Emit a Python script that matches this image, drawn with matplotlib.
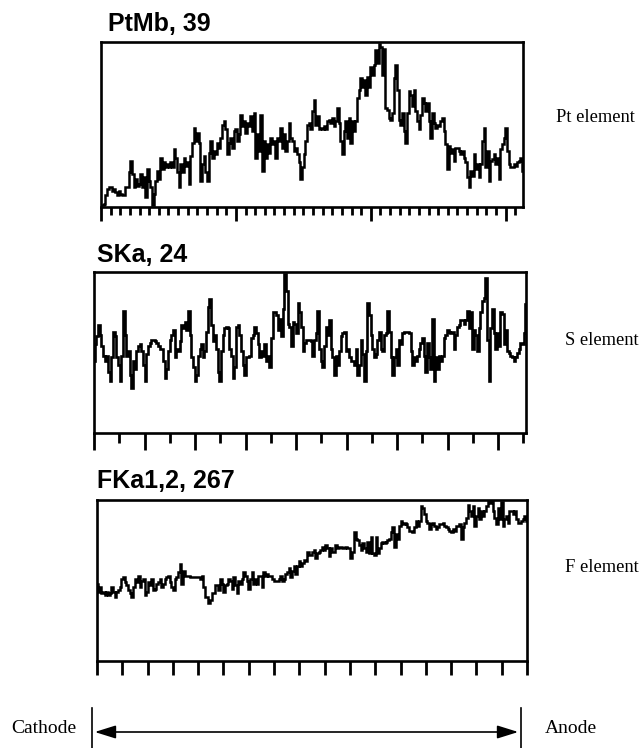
import matplotlib
matplotlib.use("Agg")
from matplotlib import pyplot as plt
from matplotlib.lines import Line2D
from matplotlib.patches import FancyArrowPatch
import numpy as np

# relative intensity (% of the max count shown in each title)
pt_counts = [1, 1, 2, 7, 11, 12, 12, 10, 11, 9, 7, 10, 8, 7, 7, 12, 12, 21, 28, 20, 12, 17, 13, 14, 20, 12,
             18, 6, 23, 16, 12, 1, 8, 16, 22, 17, 30, 23, 27, 24, 26, 24, 27, 24, 35, 30, 21, 12, 26, 21, 30,
             25, 27, 14, 31, 39, 48, 40, 45, 39, 16, 26, 31, 21, 16, 33, 40, 30, 34, 32, 39, 36, 42, 50, 52,
             47, 32, 39, 42, 36, 46, 47, 40, 44, 56, 49, 52, 45, 51, 49, 55, 46, 57, 30, 44, 34, 56, 22, 40,
             30, 38, 33, 42, 38, 40, 30, 42, 40, 48, 36, 44, 34, 40, 51, 42, 40, 34, 36, 32, 27, 17, 24, 32,
             40, 50, 51,
             47, 58, 65, 50, 55, 47, 48, 47, 49, 47, 52, 53, 51, 54, 49, 52, 60, 51, 40, 32, 46, 52, 42, 54,
             39, 52, 46, 52, 66, 71, 78, 73, 77, 68, 79, 73, 85, 80, 86, 95, 87, 99, 97, 80, 96, 60, 59, 54,
             53, 57, 78, 86, 71, 53, 50, 57, 46, 39, 57, 70, 68, 61, 71, 58, 52, 47, 56, 66, 63, 58, 63, 52,
             42, 57, 51, 48, 50, 49, 52, 54, 46, 38, 23, 37, 33, 35, 28, 36, 36, 34, 32, 34, 30, 27, 18, 12,
             22, 19, 32, 23, 26, 18, 26, 40, 48, 24, 34, 16, 28, 29, 32, 26, 30, 17, 35, 38, 42, 48, 34, 26,
             24, 24, 26, 25, 27, 28, 30, 22]

s_counts = [45, 55, 60, 67, 61, 54, 48, 45, 48, 38, 32, 47, 63, 60, 47, 42, 32, 48, 76, 61, 48, 51, 36, 28,
            45, 40, 51, 54, 55, 51, 42, 32, 49, 54, 56, 58, 58, 57, 56, 54, 52, 52, 45, 34, 40, 51, 58, 61,
            64, 47, 52, 51, 57, 67, 65, 69, 64, 76, 61, 47, 41, 32, 36, 48, 52, 55, 47, 51, 63, 78, 83, 67,
            57, 61, 52, 38, 32, 51, 61, 65, 66, 65, 52, 48, 34, 41, 66, 67, 61, 51, 42, 36, 47, 47, 48, 59,
            61, 66, 62, 55, 47, 51, 48, 55, 45, 48, 41, 59, 75, 75, 73, 64, 71, 60, 77, 99, 88, 68, 66, 54,
            69, 68, 62, 81, 75, 66, 51, 56, 58, 58,
            58, 57, 48, 58, 62, 76, 52, 45, 41, 54, 66, 61, 70, 52, 47, 36, 48, 42, 51, 60, 62, 63, 51, 52,
            47, 45, 45, 42, 52, 36, 42, 58, 49, 32, 51, 81, 73, 61, 52, 47, 49, 58, 63, 52, 51, 61, 62, 76,
            63, 47, 36, 47, 52, 42, 58, 55, 62, 63, 63, 63, 62, 51, 42, 47, 45, 48, 52, 56, 59, 48, 38, 56,
            47, 40, 71, 32, 47, 40, 48, 45, 48, 59, 61, 64, 63, 62, 63, 52, 61, 66, 67, 70, 70, 68, 70, 76,
            65, 75, 52, 64, 61, 51, 65, 75, 82, 84, 96, 58, 32, 65, 77, 62, 52, 62, 54, 75, 74, 55, 64, 51,
            50, 48, 47, 45, 47, 50, 52, 56, 55, 62, 80]

f_counts = [48, 43, 46, 42, 43, 41, 43, 41, 42, 46, 43, 40, 43, 44, 46, 51, 52, 49, 47, 44, 42, 40, 46, 51,
            49, 53, 46, 50, 51, 41, 43, 49, 47, 51, 44, 45, 48, 49, 51, 46, 48, 51, 52, 53, 49, 46, 44, 51,
            52, 55, 60, 48, 56, 53, 53, 53, 52, 52, 52, 52, 52, 52, 51, 53, 46, 40, 40, 36, 38, 42, 42, 47,
            47, 44, 51, 48, 43, 47, 48, 51, 50, 45, 52, 47, 42, 50, 48, 51, 55, 53, 50, 45, 51, 55, 48, 51,
            48, 53, 53, 46, 55, 53, 54, 53, 53, 51, 50, 50, 50, 51, 53, 50, 51, 54, 55, 58, 52, 56, 59, 54,
            59, 62, 59, 61, 63, 62, 68, 66, 66, 68, 69, 64, 67, 68, 69, 71, 69, 72, 70, 65, 70, 68, 68, 72,
            70, 71, 71, 70, 70, 71, 70, 70, 64, 68, 80, 76, 75, 72, 69, 73, 70, 68, 74, 67, 77, 67, 66, 77,
            67, 70, 73, 74, 73, 74, 75, 76, 80, 83, 71, 79, 76, 84, 87, 85, 86, 85, 83, 81, 81, 80, 83, 87,
            84, 87, 96, 95, 91, 87, 86, 82, 85, 86, 84, 82, 83, 85, 85, 86, 84, 83, 82, 81, 80, 82, 81, 84,
            84, 85, 76, 83, 86, 89, 97, 93, 90, 96, 84, 90, 95, 88, 93, 90, 93, 96, 100, 98, 100, 93, 89, 85,
            95, 88, 99, 84, 88, 90, 86, 93, 93, 91, 93, 88, 86, 86, 87, 88, 90, 87]

titles = ["PtMb, 39", "SKa, 24", "FKa1,2, 267"]
element_labels = ["Pt element", "S element", "F element"]

W, H = 640, 748
SANS = "Liberation Sans"
SERIF = "Liberation Serif"


def px_rect(x0, y0, x1, y1):
    # pixel box (top-left origin) -> figure fraction rect
    return [x0 / W, 1 - y1 / H, (x1 - x0) / W, (y1 - y0) / H]


def draw_panel(fig, rect, values, span, major, minor, major_len, minor_len, lw):
    ax = fig.add_axes(rect)
    x = np.linspace(0, span, len(values))
    ax.plot(x, values, color="black", lw=lw, drawstyle="steps-mid", solid_joinstyle="miter")
    ax.set_xlim(0, span)
    ax.set_ylim(0, 100)
    ax.set_yticks([])
    ax.set_xticks(np.arange(0, span + 0.01, major))
    ax.set_xticks(np.arange(0, span + 0.01, minor), minor=True)
    ax.tick_params(axis="x", which="major", direction="out", length=major_len, width=2,
                   labelbottom=False, color="black")
    ax.tick_params(axis="x", which="minor", direction="out", length=minor_len, width=2,
                   color="black")
    for s in ax.spines.values():
        s.set_linewidth(1.9)
        s.set_color("black")
    return ax


fig = plt.figure(figsize=(W / 100, H / 100), dpi=100)

draw_panel(fig, px_rect(101, 42, 523, 207), pt_counts, 43.8, 14, 1, 10, 6, 1.8)
draw_panel(fig, px_rect(94, 272, 526, 433), s_counts, 17.1, 2, 1, 12, 7, 1.9)
draw_panel(fig, px_rect(97, 500, 527, 661), f_counts, 17.0, 1, 1, 10, 10, 1.8)

title_pos = [(108, 31), (97, 262), (97, 488)]
for (tx, ty), t in zip(title_pos, titles):
    fig.text(tx / W, 1 - ty / H, t, family=SANS, weight="bold", fontsize=18, va="baseline", ha="left")

label_pos = [(556, 122), (565, 345), (565, 572)]
for (lx, ly), t in zip(label_pos, element_labels):
    fig.text(lx / W, 1 - ly / H, t, family=SERIF, fontsize=13.3, va="baseline", ha="left")

# cathode / anode direction marker
arrow_y = 1 - 732 / H
left_x, right_x = 92 / W, 521 / W
fig.add_artist(Line2D([left_x, left_x], [0, 1 - 708 / H], color="black", lw=1.2))
fig.add_artist(Line2D([right_x, right_x], [0, 1 - 708 / H], color="black", lw=1.2))
fig.add_artist(FancyArrowPatch(
    (left_x, arrow_y), (right_x, arrow_y), transform=fig.transFigure,
    arrowstyle="<|-|>,head_length=0.8,head_width=0.25", mutation_scale=16, color="black", lw=1.2))
fig.text(11 / W, 1 - 733 / H, "Cathode", family=SERIF, fontsize=14, va="baseline", ha="left")
fig.text(545 / W, 1 - 733 / H, "Anode", family=SERIF, fontsize=14, va="baseline", ha="left")

fig.savefig("out.png", dpi=100, facecolor="white")
